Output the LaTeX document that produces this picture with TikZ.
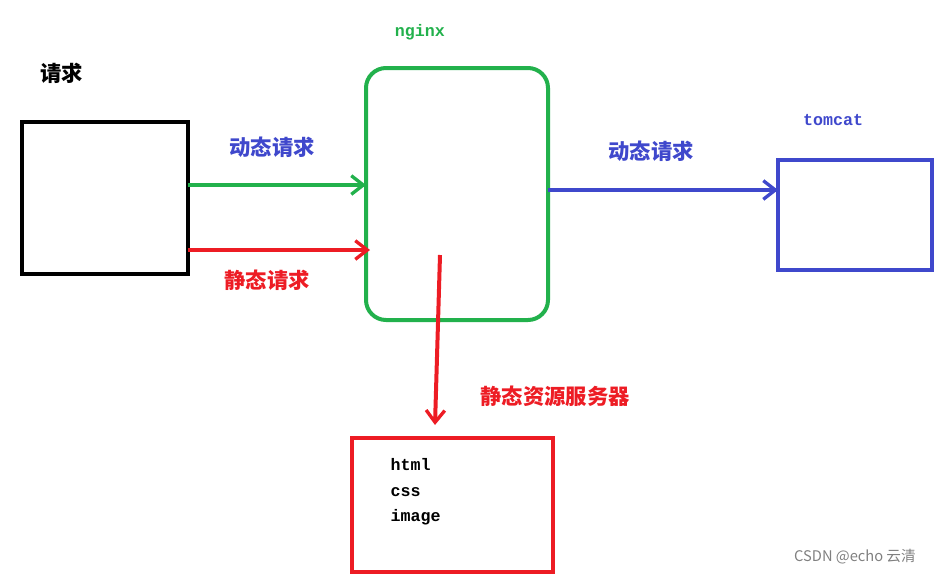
\documentclass[tikz,border=0pt]{standalone}
\usepackage{fontspec}
\newfontfamily\cjk{Noto Sans CJK SC}
\setmonofont{Liberation Mono}
\usetikzlibrary{arrows.meta}
\definecolor{ngreen}{RGB}{34,177,76}
\definecolor{nred}{RGB}{237,28,36}
\definecolor{nblue}{RGB}{63,72,204}
\tikzset{
  zh/.style={font=\cjk\bfseries\fontsize{16}{18}\selectfont},
  mono/.style={font=\ttfamily\bfseries\fontsize{12.5}{19}\selectfont},
  wire/.style={line width=3pt,-{Straight Barb[length=9pt,width=14pt,line width=2.5pt]}},
}
\begin{document}
\begin{tikzpicture}[x=0.75pt,y=-0.75pt]
\useasboundingbox (0,0) rectangle (936,575);
% boxes
\draw[line width=3pt] (22,122) rectangle (188,274);
\draw[ngreen,line width=3pt,rounded corners=15pt] (366,68) rectangle (548,320);
\draw[nblue,line width=3pt] (778,160) rectangle (932,270);
\draw[nred,line width=3pt] (352,438) rectangle (553,572);

% labels
\node[zh] (req) at (62,73) {请求};
\node[mono,nblue!0!ngreen] (nginx) at (420,32) {nginx};
\node[mono,nblue] (tomcat) at (833,120) {tomcat};
\node[zh,nblue] (dyn1) at (272,147) {动态请求};
\node[zh,nred] (sta1) at (267,280) {静态请求};
\node[zh,nblue] (dyn2) at (651,151) {动态请求};
\node[zh,nred] (stares) at (555,396) {静态资源服务器};
\node[mono,anchor=west,align=left] (files) at (386,492) {html\\css\\image};
\node[font=\cjk\fontsize{11}{13}\selectfont,text=gray] (mark) at (855,557) {CSDN @echo 云清};

% connectors
\coordinate (g0) at (188,185);
\coordinate (g1) at (366,185);
\coordinate (r0) at (188,250);
\coordinate (r1) at (370,250);
\coordinate (b0) at (548,190);
\coordinate (b1) at (778,190);
\coordinate (d0) at (440,255);
\coordinate (d1) at (435,425);
\draw[wire,ngreen] (g0) -- (g1);
\draw[wire,nred] (r0) -- (r1);
\draw[wire,nblue] (b0) -- (b1);
\draw[wire,nred] (d0) -- (d1);
\end{tikzpicture}
\end{document}
